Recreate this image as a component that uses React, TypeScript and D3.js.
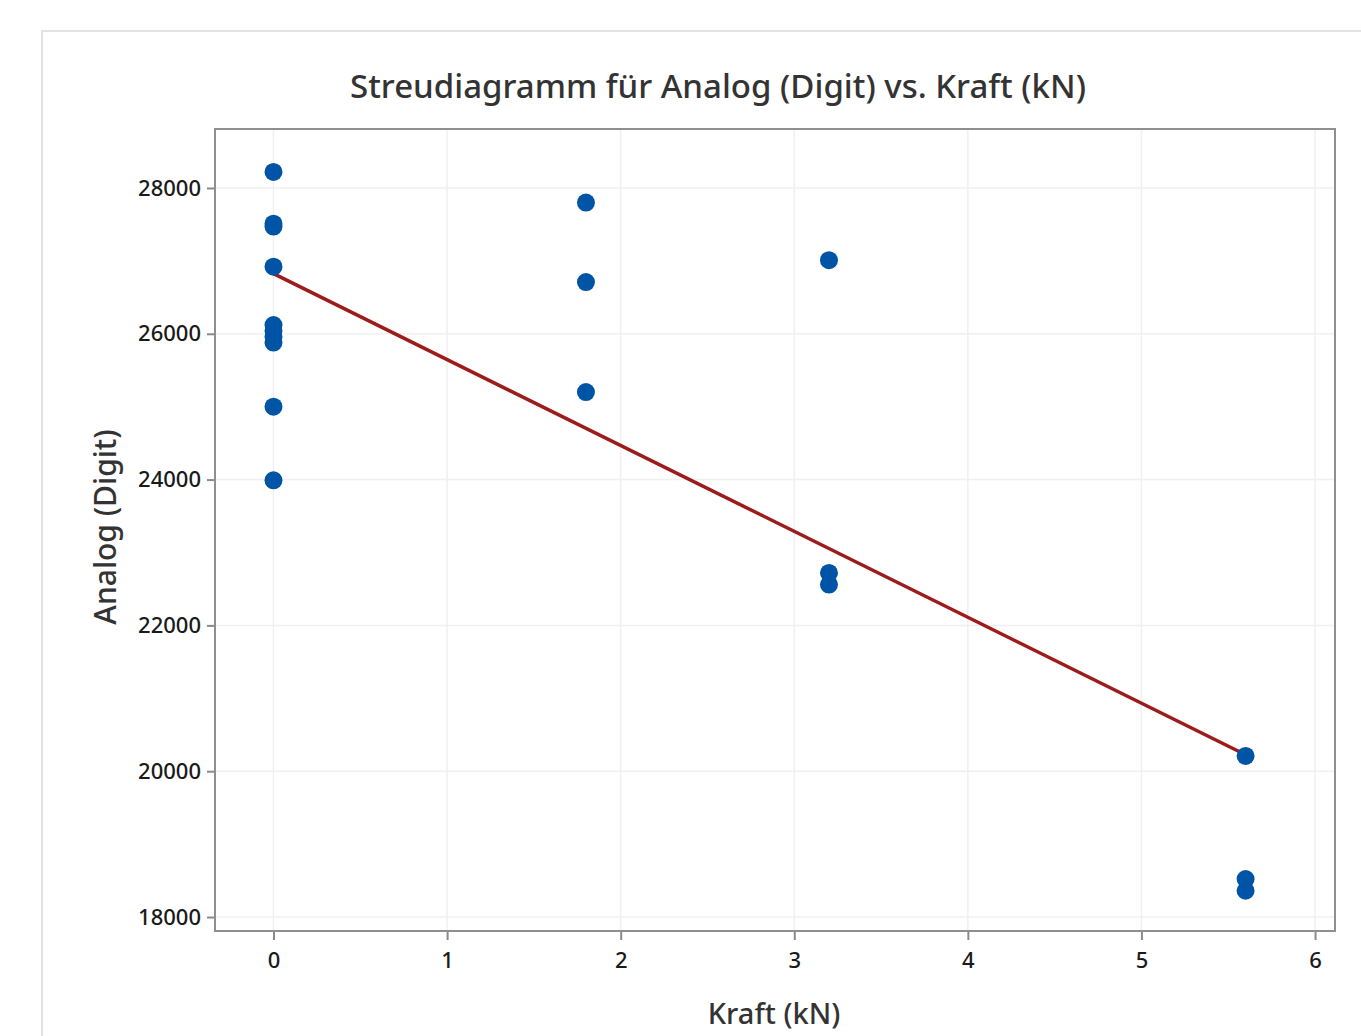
import { useEffect, useRef } from 'react';
import * as d3 from 'd3';

// Kraft (kN) for each measurement
const kraft = [
  0, 0, 0, 0, 0, 0, 0, 0, 0, 0,
  1.8, 1.8, 1.8,
  3.2, 3.2, 3.2,
  5.6, 5.6, 5.6,
];
// Analog (Digit)
const analog = [
  28220, 27510, 27470, 26920, 26120, 26040, 25960, 25880, 25000, 23990,
  27800, 26710, 25200,
  27010, 22720, 22560,
  20210, 18520, 18360,
];
const xTicks = [0, 1, 2, 3, 4, 5, 6];
const yTicks = [18000, 20000, 22000, 24000, 26000, 28000];

const title = 'Streudiagramm für Analog (Digit) vs. Kraft (kN)';
const xLabel = 'Kraft (kN)';
const yLabel = 'Analog (Digit)';

const App = () => {
  const svgRef = useRef<SVGSVGElement>(null);
  const width = 1361;
  const height = 1036;

  useEffect(() => {
    if (!svgRef.current) return;
    const svg = d3.select(svgRef.current);
    svg.selectAll('*').remove();

    const font = "'Noto Sans', 'Open Sans', sans-serif";
    const plot = { left: 215, right: 1335, top: 129, bottom: 931 };

    // outer panel border (runs off the page right and bottom)
    svg.append('rect')
      .attr('x', 42).attr('y', 31)
      .attr('width', 1400).attr('height', 1100)
      .attr('fill', '#fff')
      .attr('stroke', '#e3e3e3')
      .attr('stroke-width', 2);

    const x = d3.scaleLinear().domain([-0.337, 6.115]).range([plot.left, plot.right]);
    const y = d3.scaleLinear().domain([17808, 28809]).range([plot.bottom, plot.top]);

    // gridlines
    const grid = svg.append('g');
    grid.selectAll('.gx')
      .data(xTicks)
      .join('line')
      .attr('x1', d => x(d)).attr('x2', d => x(d))
      .attr('y1', plot.top).attr('y2', plot.bottom)
      .attr('stroke', '#f0f0f0').attr('stroke-width', 1.5);
    grid.selectAll('.gy')
      .data(yTicks)
      .join('line')
      .attr('x1', plot.left).attr('x2', plot.right)
      .attr('y1', d => y(d)).attr('y2', d => y(d))
      .attr('stroke', '#f0f0f0').attr('stroke-width', 1.5);

    // axes
    const xAxis = svg.append('g')
      .attr('transform', `translate(0,${plot.bottom})`)
      .call(d3.axisBottom(x).tickValues(xTicks).tickSize(9).tickPadding(12).tickFormat(d3.format('d')));
    const yAxis = svg.append('g')
      .attr('transform', `translate(${plot.left},0)`)
      .call(d3.axisLeft(y).tickValues(yTicks).tickSize(8).tickPadding(6).tickFormat(d3.format('d')));

    [xAxis, yAxis].forEach(a => {
      a.select('.domain').remove();
      a.selectAll('.tick line').attr('stroke', '#8a8a8a').attr('stroke-width', 2);
      a.selectAll('.tick text')
        .style('font-family', font)
        .style('font-size', '22px')
        .style('font-weight', 500)
        .style('fill', '#1a1a1a');
    });

    // plot frame
    svg.append('rect')
      .attr('x', plot.left).attr('y', plot.top)
      .attr('width', plot.right - plot.left)
      .attr('height', plot.bottom - plot.top)
      .attr('fill', 'none')
      .attr('stroke', '#8f8f8f')
      .attr('stroke-width', 2);

    // least squares fit line
    const mx = d3.mean(kraft) || 0;
    const my = d3.mean(analog) || 0;
    const sxy = d3.sum(kraft, (k, i) => (k - mx) * (analog[i] - my));
    const sxx = d3.sum(kraft, k => (k - mx) * (k - mx));
    const slope = sxy / sxx;
    const intercept = my - slope * mx;
    const [x0, x1] = d3.extent(kraft) as [number, number];
    const fit = [x0, x1].map(k => [k, intercept + slope * k] as [number, number]);
    svg.append('path')
      .attr('d', d3.line<[number, number]>().x(d => x(d[0])).y(d => y(d[1]))(fit))
      .attr('stroke', '#9e1b1b')
      .attr('stroke-width', 3.5)
      .attr('fill', 'none');

    // points
    svg.append('g')
      .selectAll('circle')
      .data(kraft.map((k, i) => ({ k, a: analog[i] })))
      .join('circle')
      .attr('cx', d => x(d.k))
      .attr('cy', d => y(d.a))
      .attr('r', 9)
      .attr('fill', '#0054a6');

    // title
    svg.append('text')
      .attr('x', 718).attr('y', 98)
      .attr('text-anchor', 'middle')
      .style('font-family', font)
      .style('font-size', '33px')
      .style('font-weight', 500)
      .style('fill', '#333')
      .text(title);

    // x label
    svg.append('text')
      .attr('x', 774).attr('y', 1024)
      .attr('text-anchor', 'middle')
      .style('font-family', font)
      .style('font-size', '29px')
      .style('font-weight', 500)
      .style('fill', '#333')
      .text(xLabel);

    // y label
    svg.append('text')
      .attr('transform', 'rotate(-90)')
      .attr('x', -527).attr('y', 116)
      .attr('text-anchor', 'middle')
      .style('font-family', font)
      .style('font-size', '30px')
      .style('font-weight', 500)
      .style('fill', '#333')
      .text(yLabel);
  }, []);

  return (
    <svg
      ref={svgRef}
      width={width}
      height={height}
      style={{ position: 'absolute', left: 0, top: 0, display: 'block', background: '#fff' }}
    />
  );
};

export default App;
